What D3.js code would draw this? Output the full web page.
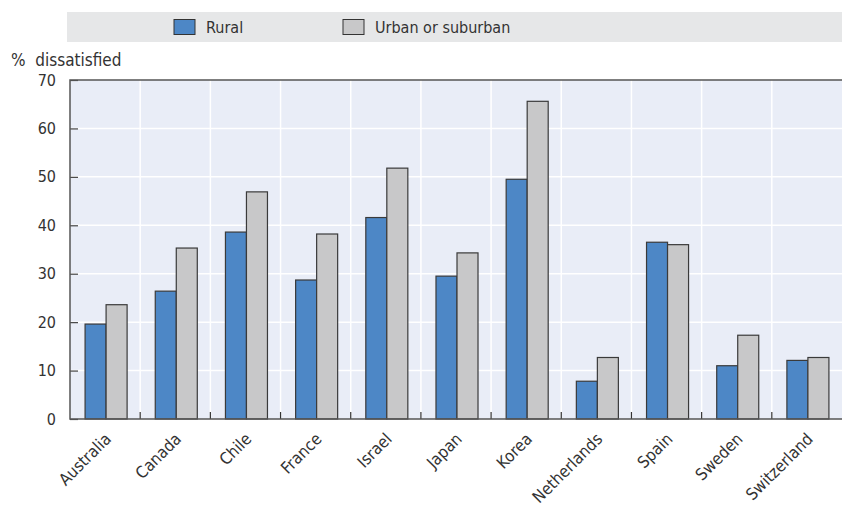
<!DOCTYPE html>
<html>
<head>
<meta charset="utf-8">
<script src="https://cdn.jsdelivr.net/npm/d3@7"></script>
<style>
  body { margin: 0; background: #fff; }
  svg text { font-family: "DejaVu Sans Condensed", "DejaVu Sans", sans-serif; font-stretch: condensed; fill: #333; }
</style>
</head>
<body>
<svg id="chart" width="842" height="506"></svg>
<script>
const countries = ['Australia', 'Canada', 'Chile', 'France', 'Israel', 'Japan', 'Korea', 'Netherlands', 'Spain', 'Sweden', 'Switzerland']
const rural = [19.6, 26.4, 38.6, 28.7, 41.6, 29.5, 49.5, 7.8, 36.5, 11.0, 12.1]
const urban = [23.6, 35.3, 46.9, 38.2, 51.8, 34.3, 65.6, 12.7, 36.0, 17.3, 12.7]
const seriesNames = ['Rural', 'Urban or suburban']
const yTicks = [0, 10, 20, 30, 40, 50, 60, 70]

const colors = ['#4d87c6', '#c8c8c9']
const svg = d3.select('#chart')
const margin = { left: 70, right: 842, top: 80, bottom: 419 }

const x0 = d3.scaleBand().domain(countries).range([margin.left, margin.right]).paddingInner(0).paddingOuter(0)
const x1 = d3.scaleBand().domain(seriesNames).range([0, x0.bandwidth()]).paddingInner(0).paddingOuter(0.67)
const y = d3.scaleLinear().domain([0, 70]).range([margin.bottom, margin.top])

// legend band
svg.append('rect')
  .attr('x', 67).attr('y', 12).attr('width', 775).attr('height', 30)
  .attr('fill', '#e6e7e8')
const legendX = [174, 343]
seriesNames.forEach((name, i) => {
  svg.append('rect')
    .attr('x', legendX[i]).attr('y', 19.5).attr('width', 21).attr('height', 15)
    .attr('fill', colors[i]).attr('stroke', '#333').attr('stroke-width', 1)
  svg.append('text')
    .attr('x', legendX[i] + 32).attr('y', 32.5)
    .style('font-size', '16px')
    .text(name)
})

// plot background
svg.append('rect')
  .attr('x', margin.left).attr('y', margin.top)
  .attr('width', margin.right - margin.left).attr('height', margin.bottom - margin.top)
  .attr('fill', '#e9edf7')

// horizontal grid
svg.append('g').selectAll('line')
  .data(yTicks.filter(d => d > 0 && d < 70))
  .join('line')
  .attr('x1', margin.left).attr('x2', margin.right)
  .attr('y1', d => y(d)).attr('y2', d => y(d))
  .attr('stroke', '#fff').attr('stroke-width', 1.5)

// vertical grid at category boundaries
const bounds = countries.slice(1).map(c => x0(c))
svg.append('g').selectAll('line')
  .data(bounds)
  .join('line')
  .attr('x1', d => d).attr('x2', d => d)
  .attr('y1', margin.top).attr('y2', margin.bottom)
  .attr('stroke', '#fff').attr('stroke-width', 1.5)

// bars
const groups = svg.append('g').selectAll('g')
  .data(countries)
  .join('g')
  .attr('transform', d => `translate(${x0(d) + 1},0)`)

groups.selectAll('rect')
  .data((d, i) => [rural[i], urban[i]].map((v, k) => ({ key: seriesNames[k], value: v, k })))
  .join('rect')
  .attr('x', d => x1(d.key))
  .attr('y', d => y(d.value))
  .attr('width', x1.bandwidth())
  .attr('height', d => y(0) - y(d.value))
  .attr('fill', d => colors[d.k])
  .attr('stroke', '#3a3a3a')
  .attr('stroke-width', 1.2)

// bottom ticks at boundaries
svg.append('g').selectAll('line')
  .data(bounds)
  .join('line')
  .attr('x1', d => d).attr('x2', d => d)
  .attr('y1', margin.bottom).attr('y2', margin.bottom - 7)
  .attr('stroke', '#333').attr('stroke-width', 1.2)

// y axis
const yAxis = d3.axisLeft(y).tickValues(yTicks).tickSize(-8).tickPadding(14).tickFormat(d3.format('d'))
const gy = svg.append('g').attr('transform', `translate(${margin.left},0)`).call(yAxis)
gy.select('.domain').remove()
gy.selectAll('.tick line').attr('stroke', '#444').attr('stroke-width', 1.2)
gy.selectAll('.tick text').style('font-size', '16px').attr('fill', '#333')

// frame: left, top, bottom
svg.append('path')
  .attr('d', `M${margin.right},${margin.top}H${margin.left}V${margin.bottom}H${margin.right}`)
  .attr('fill', 'none').attr('stroke', '#555').attr('stroke-width', 1.5)

// y label
svg.append('text')
  .attr('x', 11).attr('y', 66)
  .style('font-size', '17px')
  .style('white-space', 'pre')
  .text('%  dissatisfied')

// x labels
svg.append('g').selectAll('text')
  .data(countries)
  .join('text')
  .attr('transform', d => `translate(${x0(d) + x0.bandwidth() / 2 + 7},${margin.bottom + 21}) rotate(-45)`)
  .attr('text-anchor', 'end')
  .style('font-size', '16.5px')
  .text(d => d)
</script>
</body>
</html>
